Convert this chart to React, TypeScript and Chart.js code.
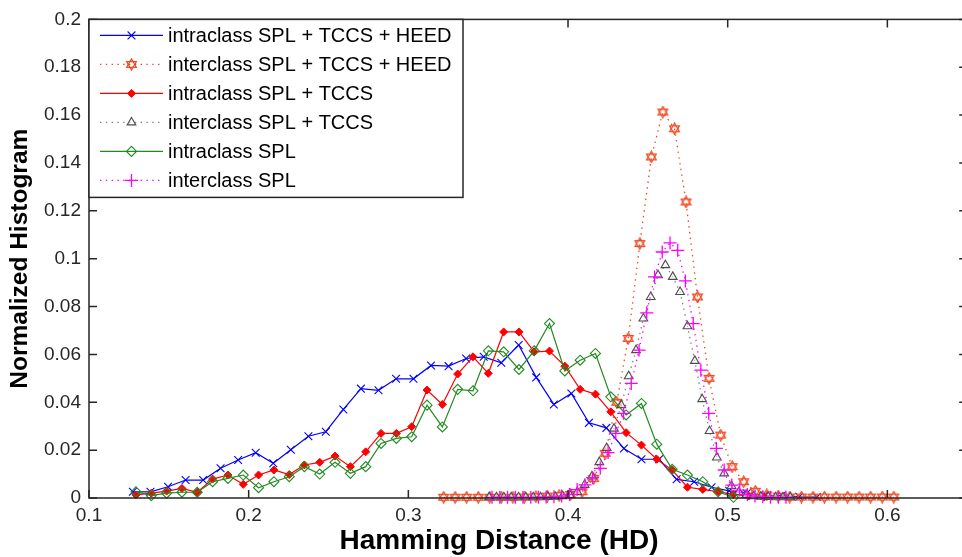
import React, { useEffect, useRef } from 'react';
import { Chart, registerables } from 'chart.js';

Chart.register(...registerables);

const FONT = '"Liberation Sans", Arial, Helvetica, sans-serif';

// ---- data ----
const intraHeedX = [0.1275,0.1385,0.1495,0.1605,0.1715,0.1824,0.1934,0.2044,0.2154,0.2264,0.2374,0.2483,0.2593,0.2703,0.2813,0.2923,0.3032,0.3142,0.3252,0.3362,0.3472,0.3582,0.3691,0.3801,0.3911,0.4021,0.4131,0.4240,0.4350,0.4460,0.4570,0.4680,0.4790,0.4899,0.5009,0.5119,0.5229,0.5339,0.5448,0.5558];
const intraHeedY = [0.0026,0.0026,0.0047,0.0075,0.0075,0.0124,0.0159,0.0189,0.0145,0.0202,0.0258,0.0277,0.0370,0.0457,0.0450,0.0498,0.0498,0.0554,0.0551,0.0583,0.0590,0.0565,0.0639,0.0504,0.0391,0.0437,0.0314,0.0293,0.0207,0.0162,0.0162,0.0078,0.0068,0.0045,0.0030,0.0020,0.0010,0.0010,0.0005,0.0004];

const interHeedX = [0.3221,0.3293,0.3365,0.3438,0.3510,0.3582,0.3655,0.3727,0.3799,0.3871,0.3944,0.4016,0.4088,0.4161,0.4233,0.4305,0.4377,0.4450,0.4522,0.4594,0.4667,0.4739,0.4811,0.4883,0.4956,0.5028,0.5100,0.5173,0.5245,0.5317,0.5389,0.5462,0.5534,0.5606,0.5679,0.5751,0.5823,0.5895,0.5968,0.6040];
const interHeedY = [0.0003,0.0003,0.0003,0.0003,0.0003,0.0003,0.0003,0.0004,0.0005,0.0008,0.0010,0.0015,0.0026,0.0082,0.0187,0.0400,0.0667,0.1063,0.1425,0.1613,0.1543,0.1237,0.0840,0.0500,0.0263,0.0131,0.0068,0.0028,0.0013,0.0008,0.0004,0.0004,0.0004,0.0004,0.0004,0.0004,0.0004,0.0004,0.0004,0.0004];

const intraTccsX = [0.1294,0.1390,0.1486,0.1582,0.1678,0.1774,0.1870,0.1966,0.2062,0.2158,0.2254,0.2349,0.2445,0.2541,0.2637,0.2733,0.2829,0.2925,0.3021,0.3117,0.3213,0.3309,0.3405,0.3501,0.3597,0.3693,0.3788,0.3884,0.3980,0.4076,0.4172,0.4268,0.4364,0.4460,0.4556,0.4652,0.4748,0.4844,0.4940,0.5036,0.5132,0.5228];
const intraTccsY = [0.0013,0.0020,0.0029,0.0040,0.0024,0.0079,0.0096,0.0057,0.0096,0.0117,0.0098,0.0138,0.0149,0.0175,0.0131,0.0193,0.0270,0.0270,0.0298,0.0451,0.0391,0.0518,0.0590,0.0521,0.0694,0.0694,0.0611,0.0614,0.0551,0.0454,0.0434,0.0360,0.0273,0.0221,0.0162,0.0117,0.0045,0.0036,0.0026,0.0015,0.0008,0.0004];

const interTccsX = [0.3506,0.3552,0.3598,0.3644,0.3690,0.3736,0.3782,0.3828,0.3874,0.3920,0.3966,0.4012,0.4058,0.4104,0.4150,0.4196,0.4242,0.4288,0.4334,0.4380,0.4426,0.4472,0.4518,0.4564,0.4610,0.4656,0.4702,0.4748,0.4794,0.4840,0.4886,0.4932,0.4978,0.5024,0.5070,0.5116,0.5162,0.5208,0.5254,0.5300,0.5346,0.5392];
const interTccsY = [0.0003,0.0003,0.0003,0.0003,0.0003,0.0003,0.0003,0.0003,0.0004,0.0005,0.0008,0.0012,0.0025,0.0055,0.0090,0.0150,0.0209,0.0290,0.0388,0.0509,0.0618,0.0750,0.0840,0.0931,0.0973,0.0924,0.0861,0.0718,0.0573,0.0413,0.0280,0.0169,0.0103,0.0050,0.0025,0.0012,0.0007,0.0005,0.0004,0.0003,0.0003,0.0003];

const intraSplX = [0.1294,0.1390,0.1486,0.1582,0.1678,0.1774,0.1870,0.1966,0.2062,0.2158,0.2254,0.2349,0.2445,0.2541,0.2637,0.2733,0.2829,0.2925,0.3021,0.3117,0.3213,0.3309,0.3405,0.3501,0.3597,0.3693,0.3788,0.3884,0.3980,0.4076,0.4172,0.4268,0.4364,0.4460,0.4556,0.4652,0.4748,0.4844,0.4940,0.5036];
const intraSplY = [0.0026,0.0010,0.0020,0.0024,0.0024,0.0068,0.0082,0.0096,0.0043,0.0068,0.0089,0.0131,0.0100,0.0149,0.0103,0.0131,0.0228,0.0249,0.0256,0.0388,0.0297,0.0454,0.0448,0.0615,0.0611,0.0537,0.0615,0.0729,0.0531,0.0576,0.0604,0.0423,0.0347,0.0395,0.0225,0.0120,0.0096,0.0068,0.0026,0.0003];

const interSplX = [0.3524,0.3573,0.3621,0.3670,0.3718,0.3767,0.3815,0.3863,0.3912,0.3960,0.4009,0.4057,0.4106,0.4154,0.4202,0.4251,0.4299,0.4348,0.4396,0.4445,0.4493,0.4542,0.4590,0.4639,0.4687,0.4735,0.4784,0.4832,0.4881,0.4929,0.4978,0.5026,0.5075,0.5123,0.5171,0.5220,0.5268,0.5317,0.5365];
const interSplY = [0.0003,0.0003,0.0003,0.0003,0.0003,0.0003,0.0003,0.0004,0.0005,0.0008,0.0015,0.0035,0.0055,0.0085,0.0124,0.0190,0.0270,0.0354,0.0479,0.0618,0.0774,0.0924,0.1028,0.1066,0.1035,0.0907,0.0729,0.0534,0.0354,0.0207,0.0117,0.0054,0.0033,0.0015,0.0008,0.0005,0.0003,0.0003,0.0003];

const seriesLabels = [
  'intraclass SPL + TCCS + HEED',
  'interclass SPL + TCCS + HEED',
  'intraclass SPL + TCCS',
  'interclass SPL + TCCS',
  'intraclass SPL',
  'interclass SPL',
];

const xTickValues = [0.1, 0.2, 0.3, 0.4, 0.5, 0.6];
const yTickValues = [0, 0.02, 0.04, 0.06, 0.08, 0.1, 0.12, 0.14, 0.16, 0.18, 0.2];

const xTitle = 'Hamming Distance (HD)';
const yTitle = 'Normalized Histogram';

// ---- helpers ----
const STAR_COLOR = '#f0461e';

function makeHexagram(color: string) {
  const c = document.createElement('canvas');
  c.width = 13;
  c.height = 13;
  const g = c.getContext('2d')!;
  g.strokeStyle = color;
  g.lineWidth = 1.2;
  const cx = 6.5, cy = 6.5, r = 5.6;
  for (const start of [-90, 90]) {
    g.beginPath();
    for (let k = 0; k < 3; k++) {
      const a = ((start + k * 120) * Math.PI) / 180;
      const px = cx + r * Math.cos(a);
      const py = cy + r * Math.sin(a);
      if (k === 0) g.moveTo(px, py);
      else g.lineTo(px, py);
    }
    g.closePath();
    g.stroke();
  }
  return c;
}

function drawMarker(ctx: CanvasRenderingContext2D, ds: any, x: number, y: number) {
  const style = ds.pointStyle;
  const r = ds.pointRadius;
  ctx.save();
  ctx.setLineDash([]);
  ctx.lineWidth = ds.pointBorderWidth;
  ctx.strokeStyle = ds.pointBorderColor;
  ctx.fillStyle = ds.pointBackgroundColor;
  if (typeof style !== 'string') {
    ctx.drawImage(style, x - style.width / 2, y - style.height / 2);
    ctx.restore();
    return;
  }
  ctx.beginPath();
  if (style === 'crossRot') {
    const d = r * Math.SQRT1_2;
    ctx.moveTo(x - d, y - d); ctx.lineTo(x + d, y + d);
    ctx.moveTo(x - d, y + d); ctx.lineTo(x + d, y - d);
    ctx.stroke();
  } else if (style === 'cross') {
    ctx.moveTo(x - r, y); ctx.lineTo(x + r, y);
    ctx.moveTo(x, y - r); ctx.lineTo(x, y + r);
    ctx.stroke();
  } else if (style === 'rectRot') {
    ctx.moveTo(x - r, y); ctx.lineTo(x, y - r); ctx.lineTo(x + r, y); ctx.lineTo(x, y + r);
    ctx.closePath();
    ctx.fill();
    ctx.stroke();
  } else if (style === 'triangle') {
    let rad = 0;
    ctx.moveTo(x + Math.sin(rad) * r, y - Math.cos(rad) * r);
    rad += (2 * Math.PI) / 3;
    ctx.lineTo(x + Math.sin(rad) * r, y - Math.cos(rad) * r);
    rad += (2 * Math.PI) / 3;
    ctx.lineTo(x + Math.sin(rad) * r, y - Math.cos(rad) * r);
    ctx.closePath();
    ctx.fill();
    ctx.stroke();
  }
  ctx.restore();
}

const matlabAxes = {
  id: 'matlabAxes',
  afterDatasetsDraw(chart: any) {
    const { ctx, chartArea: a, scales } = chart;
    const xs = scales.x, ys = scales.y;
    ctx.save();
    ctx.setLineDash([]);
    ctx.strokeStyle = '#262626';
    ctx.lineWidth = 1.5;
    ctx.strokeRect(a.left, a.top, a.right - a.left, a.bottom - a.top);
    const L = 8;
    ctx.beginPath();
    xs.ticks.forEach((t: any) => {
      const px = xs.getPixelForValue(t.value);
      ctx.moveTo(px, a.bottom); ctx.lineTo(px, a.bottom - L);
      ctx.moveTo(px, a.top); ctx.lineTo(px, a.top + L);
    });
    ys.ticks.forEach((t: any) => {
      const py = ys.getPixelForValue(t.value);
      ctx.moveTo(a.left, py); ctx.lineTo(a.left + L, py);
      ctx.moveTo(a.right, py); ctx.lineTo(a.right - L, py);
    });
    ctx.stroke();
    ctx.restore();
  },
};

const xTitlePlugin = {
  id: 'xTitlePlugin',
  afterDraw(chart: any) {
    const { ctx } = chart;
    ctx.save();
    ctx.fillStyle = '#000000';
    ctx.font = `bold 28px ${FONT}`;
    ctx.textAlign = 'center';
    ctx.textBaseline = 'alphabetic';
    ctx.fillText(xTitle, 499, 549);
    ctx.restore();
  },
};

const matlabLegend = {
  id: 'matlabLegend',
  afterDraw(chart: any) {
    const { ctx, chartArea: a } = chart;
    const x0 = a.left, y0 = a.top, w = 374, h = 178;
    ctx.save();
    ctx.fillStyle = '#ffffff';
    ctx.fillRect(x0, y0, w, h);
    ctx.strokeStyle = '#262626';
    ctx.lineWidth = 1.5;
    ctx.setLineDash([]);
    ctx.strokeRect(x0, y0, w, h);
    chart.data.datasets.forEach((ds: any, i: number) => {
      const yy = y0 + 16 + i * 29;
      ctx.beginPath();
      ctx.setLineDash(ds.borderDash || []);
      ctx.strokeStyle = ds.borderColor;
      ctx.lineWidth = ds.borderWidth;
      ctx.moveTo(x0 + 11, yy);
      ctx.lineTo(x0 + 74, yy);
      ctx.stroke();
      ctx.setLineDash([]);
      drawMarker(ctx, ds, x0 + 42.5, yy);
      ctx.fillStyle = '#000000';
      ctx.font = `20px ${FONT}`;
      ctx.textBaseline = 'middle';
      ctx.textAlign = 'left';
      ctx.fillText(ds.label, x0 + 79, yy + 1);
    });
    ctx.restore();
  },
};

const pts = (xs: number[], ys: number[]) => xs.map((x, i) => ({ x, y: ys[i] }));

export default function App() {
  const ref = useRef<HTMLCanvasElement | null>(null);

  useEffect(() => {
    if (!ref.current) return;
    const hexagram = makeHexagram(STAR_COLOR);
    const solid = { borderWidth: 1.2, borderDash: [] as number[] };
    const dotted = { borderWidth: 1.3, borderDash: [1.4, 4.4] };
    const common = { fill: false, tension: 0, clip: false as any, showLine: true };

    const chart = new Chart(ref.current, {
      type: 'line',
      data: {
        datasets: [
          {
            ...common, ...solid, order: 6,
            label: seriesLabels[0], data: pts(intraHeedX, intraHeedY),
            borderColor: '#0000ff', pointStyle: 'crossRot', pointRadius: 5.5,
            pointBorderColor: '#0000ff', pointBackgroundColor: '#0000ff', pointBorderWidth: 1.1,
          },
          {
            ...common, ...dotted, order: 5,
            label: seriesLabels[1], data: pts(interHeedX, interHeedY),
            borderColor: STAR_COLOR, pointStyle: hexagram as any, pointRadius: 5.5,
            pointBorderColor: STAR_COLOR, pointBackgroundColor: 'rgba(0,0,0,0)', pointBorderWidth: 1.2,
          },
          {
            ...common, ...solid, order: 4,
            label: seriesLabels[2], data: pts(intraTccsX, intraTccsY),
            borderColor: '#ff0000', pointStyle: 'rectRot', pointRadius: 4,
            pointBorderColor: '#ff0000', pointBackgroundColor: '#ff0000', pointBorderWidth: 1,
          },
          {
            ...common, ...dotted, order: 3,
            label: seriesLabels[3], data: pts(interTccsX, interTccsY),
            borderColor: '#7f7f7f', pointStyle: 'triangle', pointRadius: 5,
            pointBorderColor: '#4d4d4d', pointBackgroundColor: 'rgba(255,255,255,0.5)', pointBorderWidth: 1.1,
          },
          {
            ...common, ...solid, order: 2,
            label: seriesLabels[4], data: pts(intraSplX, intraSplY),
            borderColor: '#228b22', pointStyle: 'rectRot', pointRadius: 5,
            pointBorderColor: '#228b22', pointBackgroundColor: 'rgba(0,0,0,0)', pointBorderWidth: 1.1,
          },
          {
            ...common, ...dotted, order: 1,
            label: seriesLabels[5], data: pts(interSplX, interSplY),
            borderColor: '#ff00ff', pointStyle: 'cross', pointRadius: 6.5,
            pointBorderColor: '#ff00ff', pointBackgroundColor: '#ff00ff', pointBorderWidth: 1.3,
          },
        ] as any,
      },
      options: {
        responsive: false,
        animation: false,
        events: [],
        layout: { padding: { top: 19, right: 7, left: 0, bottom: 0 } },
        plugins: { legend: { display: false }, tooltip: { enabled: false } },
        scales: {
          x: {
            type: 'linear',
            min: 0.1,
            max: 0.65,
            afterBuildTicks: (s: any) => { s.ticks = xTickValues.map((v) => ({ value: v })); },
            afterFit: (s: any) => { s.height = 59; },
            grid: { display: false, drawTicks: false },
            border: { display: false },
            ticks: {
              padding: 6,
              autoSkip: false,
              maxRotation: 0,
              color: '#262626',
              font: { family: FONT, size: 19 },
              callback: (v: any) => String(+Number(v).toFixed(2)),
            },
            title: { display: false },
          },
          y: {
            type: 'linear',
            min: 0,
            max: 0.2,
            afterBuildTicks: (s: any) => { s.ticks = yTickValues.map((v) => ({ value: v })); },
            afterFit: (s: any) => { s.width = 89; },
            grid: { display: false, drawTicks: false },
            border: { display: false },
            ticks: {
              padding: 8,
              autoSkip: false,
              color: '#262626',
              font: { family: FONT, size: 19 },
              callback: (v: any) => String(+Number(v).toFixed(2)),
            },
            title: {
              display: true,
              text: yTitle,
              color: '#000000',
              font: { family: FONT, size: 24.5, weight: 'bold' },
              padding: { top: 6, bottom: 0 },
            },
          },
        },
      } as any,
      plugins: [matlabAxes, matlabLegend, xTitlePlugin],
    });
    return () => chart.destroy();
  }, []);

  return (
    <div
      style={{
        position: 'fixed',
        left: 0,
        top: 0,
        width: 962,
        height: 557,
        overflow: 'hidden',
        background: '#ffffff',
      }}
    >
      <canvas ref={ref} width={975} height={557} style={{ display: 'block' }} />
    </div>
  );
}
